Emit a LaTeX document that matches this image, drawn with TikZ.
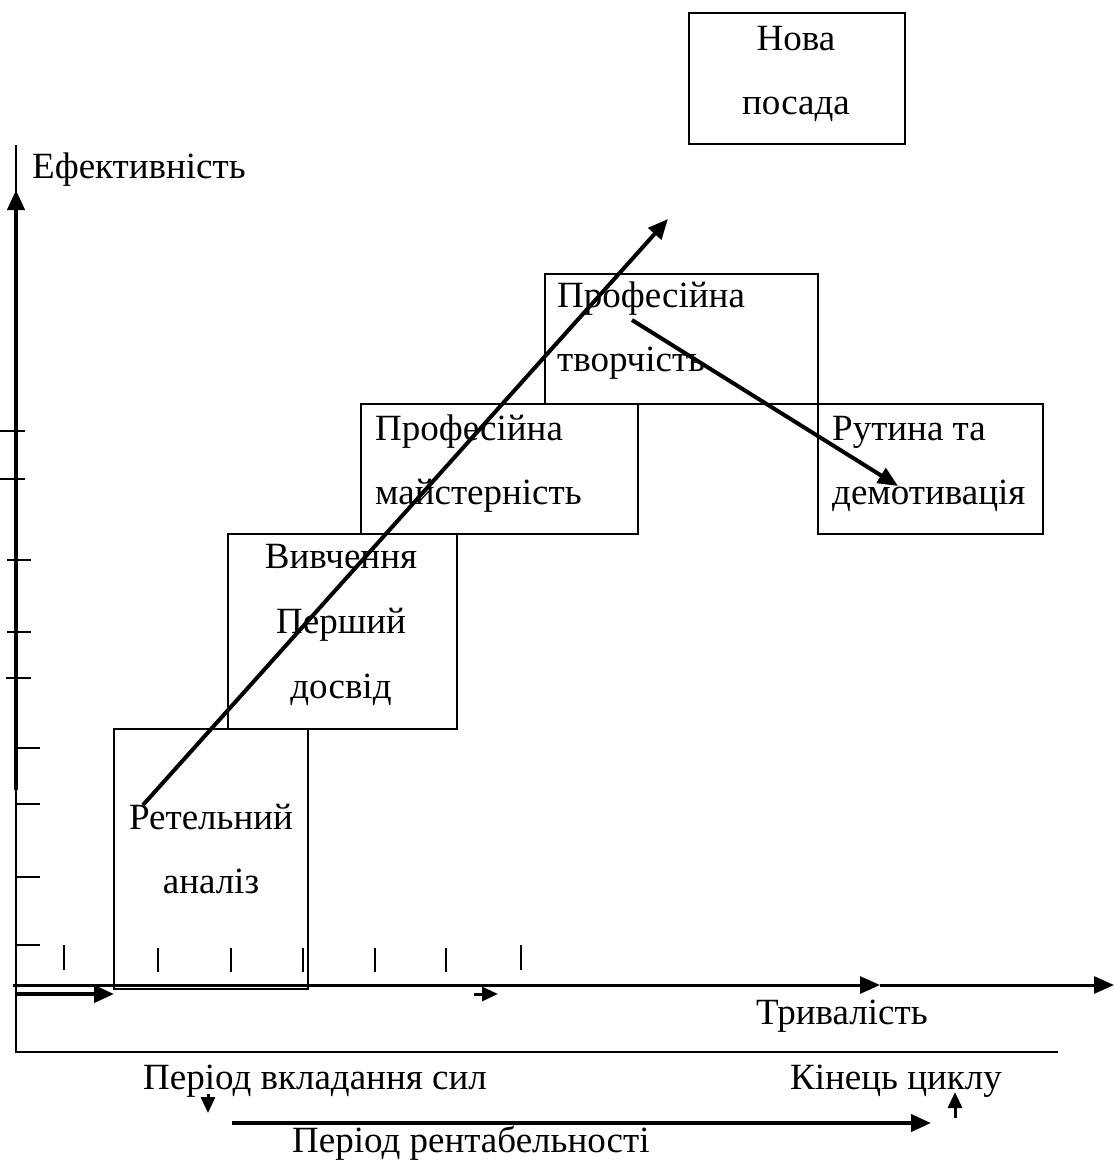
\documentclass[tikz,border=0pt]{standalone}
\usepackage{fontspec}
\setmainfont{Liberation Serif}
\usetikzlibrary{arrows.meta}
\begin{document}
\begin{tikzpicture}[x=1pt,y=-1pt,
  box/.style={draw, line width=2pt, inner sep=0pt, anchor=north west},
  txt/.style={inner sep=0pt, font=\fontsize{37}{42}\selectfont},
  thinline/.style={line width=2pt},
  thickline/.style={line width=4pt},
  axisline/.style={line width=3pt},
  tipped/.style={-{Triangle[length=20pt,width=17pt]}},
  smalltip/.style={-{Triangle[length=16pt,width=14pt]}},
  tickmark/.style={line width=2.6pt}]
\useasboundingbox (0,0) rectangle (1114,1160);

% boxes
\node[box, minimum width=216pt, minimum height=131pt] (nova) at (688,12) {};
\node[box, minimum width=273pt, minimum height=130pt] (tvor) at (544,273) {};
\node[box, minimum width=277pt, minimum height=130pt] (mais) at (360,403) {};
\node[box, minimum width=225pt, minimum height=130pt] (rut) at (817,403) {};
\node[box, minimum width=229pt, minimum height=195pt] (vyv) at (227,533) {};
\node[box, minimum width=194pt, minimum height=260pt] (ret) at (113,728) {};

% box texts
\node[txt, anchor=base] (t1) at (796,50) {Нова};
\node[txt, anchor=base] (t2) at (796,114) {посада};
\node[txt, anchor=base west] (t3) at (557,307) {Професійна};
\node[txt, anchor=base west] (t4) at (557,371) {творчість};
\node[txt, anchor=base west] (t5) at (375,440) {Професійна};
\node[txt, anchor=base west] (t6) at (375,504) {майстерність};
\node[txt, anchor=base west] (t7) at (832,440) {Рутина та};
\node[txt, anchor=base west] (t8) at (832,504) {демотивація};
\node[txt, anchor=base] (t9) at (341,568) {Вивчення};
\node[txt, anchor=base] (t10) at (341,633) {Перший};
\node[txt, anchor=base] (t11) at (341,698) {досвід};
\node[txt, anchor=base] (t12) at (211,829) {Ретельний};
\node[txt, anchor=base] (t13) at (211,893) {аналіз};

% axis labels
\node[txt, anchor=base west] (ef) at (32,178) {Ефективність};
\node[txt, anchor=base west] (tr) at (756,1024) {Тривалість};
\node[txt, anchor=base west] (pvs) at (143,1089) {Період вкладання сил};
\node[txt, anchor=base west] (kc) at (790,1089) {Кінець циклу};
\node[txt, anchor=base west] (pr) at (292,1152) {Період рентабельності};

% frame (thin left and bottom lines)
\coordinate (ftop) at (16,145);
\coordinate (fcorner) at (16,1052);
\coordinate (fend) at (1058,1052);
\draw[thinline] (ftop) -- (fcorner) -- (fend);

% vertical axis
\coordinate (vbot) at (16,790);
\coordinate (vtip) at (16,190);
\draw[thickline, tipped] (vbot) -- (vtip);

% horizontal axis
\coordinate (hstart) at (13,985);
\coordinate (hmid) at (880,985);
\coordinate (hend) at (1114,985);
\draw[axisline, tipped] (hstart) -- (hmid);
\draw[axisline, tipped] (hmid) -- (hend);

% short arrows below axis
\coordinate (s1a) at (16,994);
\coordinate (s1b) at (114,994);
\draw[thickline, tipped] (s1a) -- (s1b);
\coordinate (s2a) at (474,994);
\coordinate (s2b) at (498,994);
\draw[axisline, smalltip] (s2a) -- (s2b);

% ticks on vertical axis
\foreach \y/\a/\b in {431/0/25, 479/0/25, 560/7/31, 632/7/31, 678/6/31, 748/17/40, 804/17/40, 877/17/40, 945/17/40}
  \draw[tickmark] (\a,\y) -- (\b,\y);

% ticks above horizontal axis
\foreach \x/\ya/\yb in {64/945/970, 158/948/972, 231/948/972, 303/948/972, 375/948/972, 446/948/972, 521/945/970}
  \draw[tickmark] (\x,\ya) -- (\x,\yb);

% main diagonal arrows
\coordinate (d1a) at (143,805);
\coordinate (d1b) at (668,219);
\draw[thickline, tipped] (d1a) -- (d1b);
\coordinate (d2a) at (632,320);
\coordinate (d2b) at (898,486);
\draw[thickline, tipped] (d2a) -- (d2b);

% bottom arrows
\coordinate (da) at (208,1094);
\coordinate (db) at (208,1113);
\draw[axisline, smalltip] (da) -- (db);
\coordinate (pa) at (232,1123);
\coordinate (pb) at (931,1123);
\draw[thickline, tipped] (pa) -- (pb);
\coordinate (ua) at (955,1118);
\coordinate (ub) at (955,1092);
\draw[axisline, smalltip] (ua) -- (ub);
\end{tikzpicture}
\end{document}
